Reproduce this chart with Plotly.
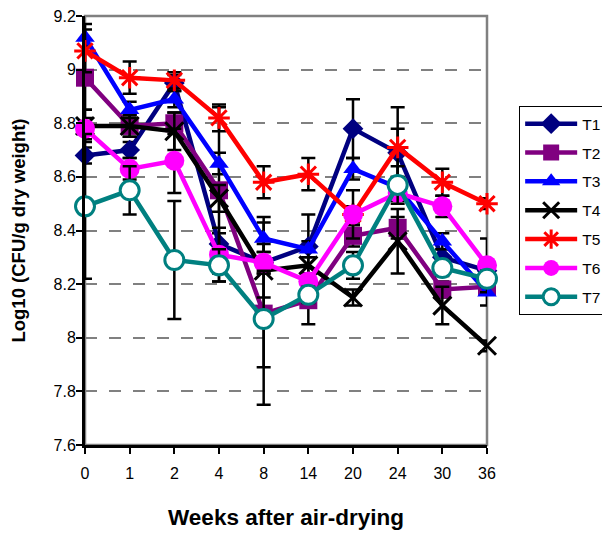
import plotly.graph_objects as go

weeks = ["0", "1", "2", "4", "8", "14", "20", "24", "30", "36"]
series_names = ["T1", "T2", "T3", "T4", "T5", "T6", "T7"]

t1 = [8.68, 8.70, 8.95, 8.35, 8.28, 8.34, 8.78, 8.69, 8.30, 8.25]
t2 = [8.97, 8.79, 8.80, 8.55, 8.09, 8.14, 8.38, 8.41, 8.18, 8.19]
t3 = [9.12, 8.85, 8.89, 8.65, 8.37, 8.33, 8.63, 8.56, 8.36, 8.17]
t4 = [8.79, 8.79, 8.77, 8.52, 8.25, 8.27, 8.15, 8.36, 8.12, 7.97]
t5 = [9.07, 8.97, 8.96, 8.82, 8.58, 8.61, 8.46, 8.71, 8.58, 8.50]
t6 = [8.78, 8.63, 8.66, 8.31, 8.28, 8.21, 8.46, 8.54, 8.49, 8.27]
t7 = [8.49, 8.55, 8.29, 8.27, 8.07, 8.16, 8.27, 8.57, 8.26, 8.22]

e1 = [0.03, 0.03, 0.03, 0.04, 0.04, 0.12, 0.11, 0.09, 0.03, 0.03]
e2 = [0.12, 0.04, 0.04, 0.31, 0.34, 0.09, 0.04, 0.04, 0.03, 0.03]
e3 = [0.05, 0.03, 0.03, 0.04, 0.08, 0.03, 0.04, 0.04, 0.03, 0.05]
e4 = [0.06, 0.04, 0.07, 0.05, 0.10, 0.03, 0.03, 0.12, 0.07, 0.02]
e5 = [0.08, 0.06, 0.03, 0.05, 0.06, 0.06, 0.03, 0.15, 0.05, 0.02]
e6 = [0.04, 0.04, 0.12, 0.10, 0.04, 0.03, 0.09, 0.03, 0.04, 0.10]
e7 = [0.27, 0.09, 0.22, 0.06, 0.18, 0.03, 0.05, 0.07, 0.03, 0.03]

y_ticks = [7.6, 7.8, 8.0, 8.2, 8.4, 8.6, 8.8, 9.0, 9.2]
y_ticklabels = ["7.6", "7.8", "8", "8.2", "8.4", "8.6", "8.8", "9", "9.2"]

values = [t1, t2, t3, t4, t5, t6, t7]
errors = [e1, e2, e3, e4, e5, e6, e7]
colors = ["#000080", "#800080", "#0000FF", "#000000", "#FF0000", "#FF00FF", "#008080"]
symbols = ["diamond", "square", "triangle-up", "x-thin-open", "asterisk-open", "circle", "circle"]
sizes = [16, 18, 17, 18, 18, 20, 19]

fig = go.Figure()
for name, y, err, c, s, sz in zip(series_names, values, errors, colors, symbols, sizes):
    if name == "T7":
        marker = dict(symbol=s, size=sz, color="white", line=dict(color=c, width=3))
    elif s in ("x-thin-open", "asterisk-open"):
        marker = dict(symbol=s, size=sz, color=c, line=dict(color=c, width=3))
    else:
        marker = dict(symbol=s, size=sz, color=c, line=dict(color=c, width=0))
    fig.add_trace(go.Scatter(
        x=weeks, y=y, name=name, mode="lines+markers",
        line=dict(color=c, width=4.5),
        marker=marker,
        error_y=dict(type="data", array=err, visible=True, color="black", thickness=2.5, width=7),
        cliponaxis=False,
        legendgroup=name,
    ))

font_family = "Arial, Liberation Sans, sans-serif"
fig.update_layout(
    width=610, height=533,
    margin=dict(l=77, r=131, t=8, b=96, autoexpand=False),
    paper_bgcolor="white", plot_bgcolor="white",
    font=dict(family=font_family, size=14, color="black"),
    showlegend=True,
    legend=dict(
        x=1.08, y=0.79, xanchor="left", yanchor="top",
        bordercolor="black", borderwidth=1, bgcolor="white",
        font=dict(size=15.5, color="black"),
        traceorder="grouped", tracegroupgap=5.7,
        itemwidth=52,
    ),
    xaxis=dict(
        type="category", range=[0, 9], automargin=False,
        showline=True, linecolor="black", linewidth=3,
        ticks="outside", ticklen=6, tickwidth=2, tickcolor="black",
        ticklabelstandoff=6,
        showgrid=False, zeroline=False,
        tickfont=dict(size=16),
        title=dict(text="<b>Weeks after air-drying</b>", font=dict(size=22.5), standoff=29),
    ),
    yaxis=dict(
        range=[7.5999, 9.2001], automargin=False,
        tickvals=y_ticks, ticktext=y_ticklabels,
        ticklabeloverflow="allow",
        showline=True, linecolor="black", linewidth=3,
        ticks="outside", ticklen=6, tickwidth=2, tickcolor="black",
        ticklabelstandoff=-3,
        showgrid=True, gridcolor="#808080", gridwidth=1.5, griddash="12px,12px",
        zeroline=False,
        tickfont=dict(size=16),
        title=dict(text="<b>Log10 (CFU/g dry weight)</b>", font=dict(size=18.5), standoff=24),
    ),
    shapes=[dict(type="rect", xref="paper", yref="paper", x0=0, x1=1, y0=0, y1=1,
                 line=dict(color="#808080", width=2.5), layer="below")],
)

fig.write_html("out.html")
